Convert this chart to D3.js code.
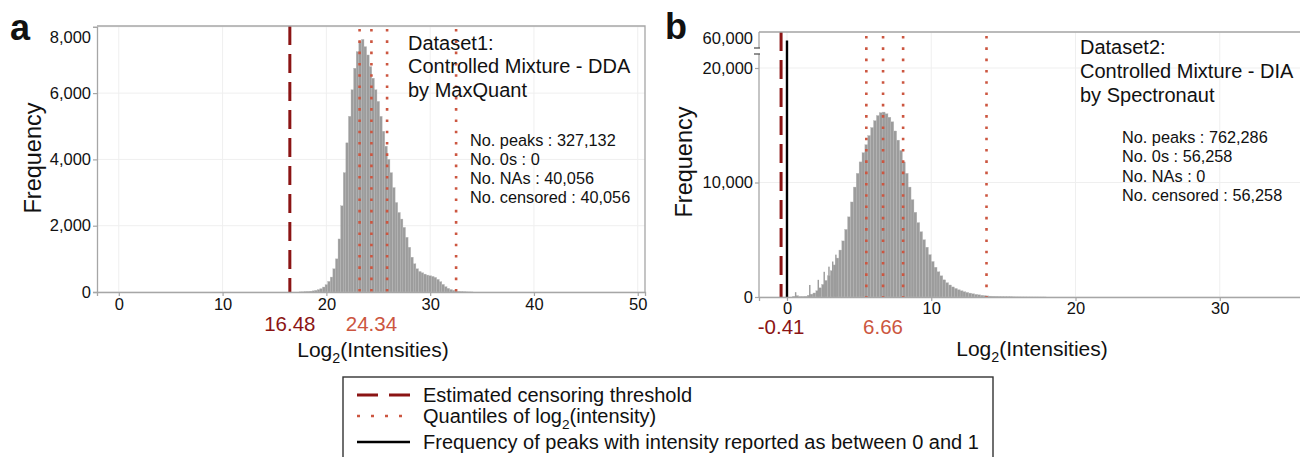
<!DOCTYPE html>
<html><head><meta charset="utf-8">
<script src="https://cdn.jsdelivr.net/npm/d3@7/dist/d3.min.js"></script>
<style>
body{margin:0;background:#fff}
text{font-family:"Liberation Sans",Arial,Helvetica,sans-serif;fill:#111}
</style></head>
<body><svg id="c" width="1300" height="457"></svg>
<script>
// ---------------- DATA ----------------
// Panel a: Dataset1 (DDA, MaxQuant) histogram, bin centers (width 0.25) and counts
const binWidthA = 0.25;
const binsA_x = [17.5,17.75,18,18.25,18.5,18.75,19,19.25,19.5,19.75,20,20.25,20.5,20.75,21,21.25,21.5,21.75,22,22.25,22.5,22.75,23,23.25,23.5,23.75,24,24.25,24.5,24.75,25,25.25,25.5,25.75,26,26.25,26.5,26.75,27,27.25,27.5,27.75,28,28.25,28.5,28.75,29,29.25,29.5,29.75,30,30.25,30.5,30.75,31,31.25,31.5,31.75,32,32.25,32.5,32.75,33,33.25,33.5,33.75,34];
const binsA_n = [3,5,10,15,25,35,50,70,100,150,220,320,450,700,1000,1600,2600,3600,4500,5300,6100,6750,7250,7550,7620,7400,7150,6800,6450,6100,5750,5300,4850,4400,4000,3600,3150,2700,2400,2200,1950,1650,1350,1050,850,700,620,580,540,510,490,470,440,380,310,230,160,110,75,50,30,20,12,8,5,3,2];
const thresholdA = 16.48;
const quantilesA = [23.2, 24.34, 25.85, 32.5];
const labelQuantA = 24.34;
const xTicksA = [0,10,20,30,40,50];
const yTicksA = [0,2000,4000,6000,8000];
const titleA = ["Dataset1:", "Controlled Mixture - DDA", "by MaxQuant"];
const statsA = ["No. peaks : 327,132", "No. 0s : 0", "No. NAs : 40,056", "No. censored : 40,056"];

// Panel b: Dataset2 (DIA, Spectronaut) histogram, bin centers (width 0.2) and counts
const binWidthB = 0.2;
const binsB_x = [0.5,0.7,0.9,1.1,1.3,1.5,1.7,1.9,2.1,2.3,2.5,2.7,2.9,3.1,3.3,3.5,3.7,3.9,4.1,4.3,4.5,4.7,4.9,5.1,5.3,5.5,5.7,5.9,6.1,6.3,6.5,6.7,6.9,7.1,7.3,7.5,7.7,7.9,8.1,8.3,8.5,8.7,8.9,9.1,9.3,9.5,9.7,9.9,10.1,10.3,10.5,10.7,10.9,11.1,11.3,11.5,11.7,11.9,12.1,12.3,12.5,12.7,12.9,13.1,13.3,13.5,13.7,13.9,14.1,14.3,14.5,14.7,14.9,15.1,15.3,15.5,15.7,15.9,16.1,16.3,16.5,16.7,16.9,17.1,17.3,17.5,17.7,17.9];
const binsB_n = [60,120,40,40,60,150,250,350,550,800,1100,1450,1850,2300,2800,3400,4100,4900,5900,7000,8300,9600,10800,11800,12600,13300,14100,14800,15400,15850,16100,16150,16000,15700,15300,14500,13700,12800,11800,10800,9600,8500,7400,6500,5700,5000,4350,3700,3100,2600,2200,1850,1500,1250,1050,880,750,630,540,460,400,340,280,230,190,150,120,95,75,60,50,40,32,26,22,18,15,12,10,8,6,5,4,3,3,2,2,1];
// narrow spikes at low intensities (width 0.1)
const spikesB_x = [0.6, 1.58, 2.17, 2.58, 2.91, 3.17, 3.39];
const spikesB_n = [420, 1050, 1500, 2200, 2650, 3100, 3700];
const thresholdB = -0.41;
const zerosB = 56258;
const quantilesB = [5.5, 6.66, 8.05, 13.83];
const labelQuantB = 6.66;
const xTicksB = [0,10,20,30];
const yTicksB = [0,10000,20000];
const yTicksBTop = [60000];
const titleB = ["Dataset2:", "Controlled Mixture - DIA", "by Spectronaut"];
const statsB = ["No. peaks : 762,286", "No. 0s : 56,258", "No. NAs : 0", "No. censored : 56,258"];

const legendItems = ["Estimated censoring threshold", "Quantiles of log|2|(intensity)", "Frequency of peaks with intensity reported as between 0 and 1"];

// ---------------- STYLE ----------------
const C_THR = "#8b1414", C_Q = "#cc5640", C_BAR = "#9c9c9c", C_AX = "#a6a6a6", C_GRID = "#efefef";
const svg = d3.select("#c");
const fmt = d3.format(",");

function styleAxis(g){
  g.selectAll(".domain").attr("stroke", C_AX).attr("stroke-width", 1.3);
  g.selectAll(".tick line").attr("stroke", C_AX).attr("stroke-width", 1.2);
  g.selectAll(".tick text").attr("font-size", 16.5).attr("fill", "#111")
    .style("font-family", '"Liberation Sans",Arial,sans-serif');
}

function subText(sel, str, size){
  const parts = str.split("|");
  sel.text(null);
  sel.append("tspan").text(parts[0]);
  if (parts.length > 1){
    sel.append("tspan").attr("font-size", size*0.68).attr("dy", size*0.28).text(parts[1]);
    sel.append("tspan").attr("dy", -size*0.28).text(parts[2]);
  }
}

// ---------------- PANEL A ----------------
{
  const L=97, R=645, T=26, B=292;
  const x = d3.scaleLinear().domain([-2.1, 50.7]).range([L, R]);
  const y = d3.scaleLinear().domain([0, 8000]).range([B, 26.8]);
  const g = svg.append("g");
  g.selectAll(".gx").data(xTicksA).join("line").attr("x1", d=>x(d)).attr("x2", d=>x(d)).attr("y1", T).attr("y2", B).attr("stroke", C_GRID);
  g.selectAll(".gy").data(yTicksA).join("line").attr("x1", L).attr("x2", R).attr("y1", d=>y(d)).attr("y2", d=>y(d)).attr("stroke", C_GRID);
  const bw = x(binWidthA) - x(0);
  g.selectAll(".bar").data(binsA_x).join("rect")
    .attr("x", d=>x(d - binWidthA/2)).attr("width", bw)
    .attr("y", (d,i)=>y(binsA_n[i])).attr("height", (d,i)=>B - y(binsA_n[i]))
    .attr("fill", C_BAR).attr("stroke", "#b8b8b8").attr("stroke-width", 0.35);
  g.append("line").attr("x1", x(thresholdA)).attr("x2", x(thresholdA)).attr("y1", T).attr("y2", B)
    .attr("stroke", C_THR).attr("stroke-width", 3).attr("stroke-dasharray", "19,9");
  g.selectAll(".q").data(quantilesA).join("line").attr("x1", d=>x(d)).attr("x2", d=>x(d)).attr("y1", T+3).attr("y2", B)
    .attr("stroke", C_Q).attr("stroke-width", 2.6).attr("stroke-dasharray", "2.6,8.7");
  g.append("path").attr("d", `M${L},${T}H${R}V${B}`).attr("fill","none").attr("stroke", C_AX).attr("stroke-width", 1.3);
  const ax = g.append("g").attr("transform", `translate(0,${B})`).call(d3.axisBottom(x).tickValues(xTicksA).tickSize(4).tickPadding(2));
  styleAxis(ax);
  const ay = g.append("g").attr("transform", `translate(${L},0)`).call(d3.axisLeft(y).tickValues(yTicksA).tickFormat(fmt).tickSize(4).tickPadding(2));
  styleAxis(ay);
  ay.selectAll(".tick text").filter(d=>d===8000).attr("dy", "0.95em");
  g.append("text").attr("x", x(thresholdA)).attr("y", 331).attr("text-anchor","middle").attr("font-size", 20.5).style("fill", C_THR).text(thresholdA.toFixed(2));
  g.append("text").attr("x", x(labelQuantA)).attr("y", 331).attr("text-anchor","middle").attr("font-size", 20.5).style("fill", C_Q).text(labelQuantA.toFixed(2));
  subText(g.append("text").attr("x", 373).attr("y", 357).attr("text-anchor","middle").attr("font-size", 21), "Log|2|(Intensities)", 21);
  g.append("text").attr("transform", "translate(41,158) rotate(-90)").attr("text-anchor","middle").attr("font-size", 23.5).text("Frequency");
  g.selectAll(".ta").data(titleA).join("text").attr("x", 408).attr("y", (d,i)=>50 + i*23.3).attr("font-size", 20).text(d=>d);
  g.selectAll(".sa").data(statsA).join("text").attr("x", 470).attr("y", (d,i)=>146 + i*19).attr("font-size", 16.3).text(d=>d);
  g.append("text").attr("x", 10).attr("y", 40).attr("font-size", 36).attr("font-weight","bold").text("a");
}

// ---------------- PANEL B ----------------
{
  const L=759, R=1302, T=32, B=297;
  const x = d3.scaleLinear().domain([-1.94, 35.7]).range([L, R]);
  const yLow = d3.scaleLinear().domain([0, 20000]).range([B, 68]);
  const yTop = d3.scaleLinear().domain([53000, 60000]).range([48, T]);
  const y = v => v <= 21200 ? yLow(v) : yTop(v);
  const g = svg.append("g");
  g.selectAll(".gx").data(xTicksB).join("line").attr("x1", d=>x(d)).attr("x2", d=>x(d)).attr("y1", T).attr("y2", B).attr("stroke", C_GRID);
  g.selectAll(".gy").data(yTicksB.concat(yTicksBTop)).join("line").attr("x1", L).attr("x2", R).attr("y1", d=>y(d)).attr("y2", d=>y(d)).attr("stroke", C_GRID);
  const bw = x(binWidthB) - x(0);
  g.selectAll(".bar").data(binsB_x).join("rect")
    .attr("x", d=>x(d - binWidthB/2)).attr("width", bw)
    .attr("y", (d,i)=>y(binsB_n[i])).attr("height", (d,i)=>B - y(binsB_n[i]))
    .attr("fill", C_BAR).attr("stroke", "#b8b8b8").attr("stroke-width", 0.35);
  const sw = x(0.1) - x(0);
  g.selectAll(".spk").data(spikesB_x).join("rect")
    .attr("x", d=>x(d - 0.05)).attr("width", sw)
    .attr("y", (d,i)=>y(spikesB_n[i])).attr("height", (d,i)=>B - y(spikesB_n[i]))
    .attr("fill", C_BAR);
  g.append("line").attr("x1", x(0)).attr("x2", x(0)).attr("y1", B).attr("y2", y(zerosB)).attr("stroke", "#000").attr("stroke-width", 2.4);
  g.append("line").attr("x1", x(thresholdB)).attr("x2", x(thresholdB)).attr("y1", T).attr("y2", B)
    .attr("stroke", C_THR).attr("stroke-width", 3).attr("stroke-dasharray", "19,9");
  g.selectAll(".q").data(quantilesB).join("line").attr("x1", d=>x(d)).attr("x2", d=>x(d)).attr("y1", T+4).attr("y2", B)
    .attr("stroke", C_Q).attr("stroke-width", 2.6).attr("stroke-dasharray", "2.6,8.7");
  g.append("line").attr("x1", L).attr("x2", R).attr("y1", T).attr("y2", T).attr("stroke", C_AX).attr("stroke-width", 1.3);
  const ax = g.append("g").attr("transform", `translate(0,${B})`).call(d3.axisBottom(x).tickValues(xTicksB).tickSize(4).tickPadding(1));
  styleAxis(ax);
  const ay = g.append("g").attr("transform", `translate(${L},0)`).call(d3.axisLeft(yLow).tickValues(yTicksB).tickFormat(fmt).tickSize(4).tickPadding(2));
  styleAxis(ay);
  ay.select(".domain").attr("d", `M0,${B}V54`);
  const ay2 = g.append("g").attr("transform", `translate(${L},0)`).call(d3.axisLeft(yTop).tickValues(yTicksBTop).tickFormat(fmt).tickSize(0).tickPadding(6));
  styleAxis(ay2);
  ay2.select(".domain").attr("d", `M0,${T}V48`);
  ay2.selectAll(".tick text").attr("dy", "0.7em");
  [48, 54].forEach(v => g.append("line").attr("x1", L-5).attr("x2", L+1).attr("y1", v).attr("y2", v).attr("stroke", "#555").attr("stroke-width", 1.3));
  g.append("text").attr("x", x(thresholdB)).attr("y", 334).attr("text-anchor","middle").attr("font-size", 20.5).style("fill", C_THR).text(thresholdB.toFixed(2));
  g.append("text").attr("x", x(labelQuantB)).attr("y", 334).attr("text-anchor","middle").attr("font-size", 20.5).style("fill", C_Q).text(labelQuantB.toFixed(2));
  subText(g.append("text").attr("x", 1032).attr("y", 356).attr("text-anchor","middle").attr("font-size", 21), "Log|2|(Intensities)", 21);
  g.append("text").attr("transform", "translate(692,162) rotate(-90)").attr("text-anchor","middle").attr("font-size", 23.5).text("Frequency");
  g.selectAll(".tb").data(titleB).join("text").attr("x", 1080).attr("y", (d,i)=>54 + i*24).attr("font-size", 20).text(d=>d);
  g.selectAll(".sb").data(statsB).join("text").attr("x", 1122).attr("y", (d,i)=>143 + i*19.3).attr("font-size", 16.3).text(d=>d);
  g.append("text").attr("x", 665).attr("y", 39).attr("font-size", 36).attr("font-weight","bold").text("b");
}

// ---------------- LEGEND ----------------
{
  const g = svg.append("g");
  g.append("rect").attr("x", 343).attr("y", 377).attr("width", 650).attr("height", 100).attr("fill", "none").attr("stroke", "#333").attr("stroke-width", 1.4);
  const rows = [395, 416, 442];
  g.append("line").attr("x1", 357).attr("x2", 410).attr("y1", rows[0]).attr("y2", rows[0]).attr("stroke", C_THR).attr("stroke-width", 3).attr("stroke-dasharray", "21,11");
  g.append("line").attr("x1", 357).attr("x2", 410).attr("y1", rows[1]).attr("y2", rows[1]).attr("stroke", C_Q).attr("stroke-width", 2.6).attr("stroke-dasharray", "3,11");
  g.append("line").attr("x1", 357).attr("x2", 410).attr("y1", rows[2]).attr("y2", rows[2]).attr("stroke", "#000").attr("stroke-width", 2.6);
  legendItems.forEach((t,i) => {
    subText(g.append("text").attr("x", 423).attr("y", rows[i] + 7).attr("font-size", 20), t, 20);
  });
}
</script></body></html>
